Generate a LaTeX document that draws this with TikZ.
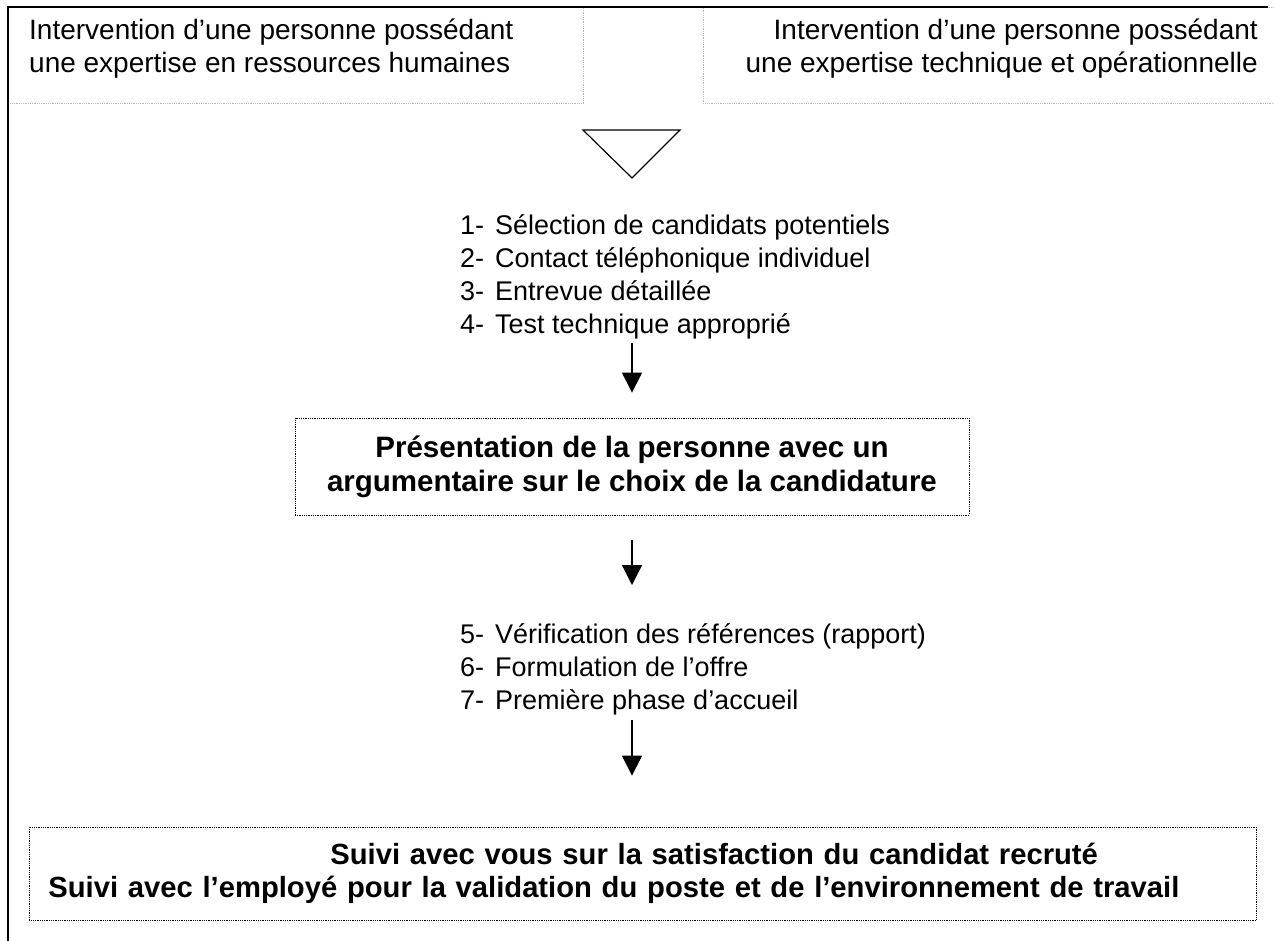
\documentclass[tikz,border=0pt]{standalone}
\usepackage{fontspec}
\setmainfont{Liberation Sans}
\usetikzlibrary{arrows.meta,calc}

\begin{document}
\begin{tikzpicture}[x=1pt,y=-1pt,>=Latex,
	topbox/.style={draw=gray!55, densely dotted, line width=0.8pt,
		minimum width=#1, minimum height=96pt, inner sep=0pt, anchor=north west},
	dotbox/.style={draw=black, densely dotted, line width=0.8pt,
		inner sep=0pt, font=\bfseries\fontsize{29.5}{34}\selectfont, align=center},
	toptext/.style={inner sep=0pt, font=\fontsize{28}{33}\selectfont},
	steplist/.style={inner sep=0pt, anchor=north west, align=left,
		font=\fontsize{27}{33}\selectfont},
	flowarr/.style={line width=1.2pt, -{Triangle[length=20pt,width=20pt]}}]
	
	\useasboundingbox (0,0) rectangle (1274,941);
	
	% ======================================================
	% Top: the two experts
	% ======================================================
	\node[topbox=575pt] (rhbox) at (8,7) {};
	\node[topbox=580pt] (techbox) at (703,7) {};
	\node[toptext, anchor=north west, align=left] (rhtext) at (29,19)
	{Intervention d’une personne possédant\\une expertise en ressources humaines};
	\node[toptext, anchor=north east, align=right] (techtext) at (1258,19)
	{Intervention d’une personne possédant\\une expertise technique et opérationnelle};
	
	% Outer frame (left and top only)
	\draw[line width=2pt] (8,941) -- (8,7) -- (1268,7);
	
	% Funnel
	\draw[line width=1.2pt, line join=miter] (583,130) -- (680,130) -- (632,178) -- cycle;
	
	% ======================================================
	% Steps 1 to 4
	% ======================================================
	\def\num#1{\makebox[35pt][l]{#1-}}
	\node[steplist] (lista) at (460,214)
	{\num{1}Sélection de candidats potentiels\\
		\num{2}Contact téléphonique individuel\\
		\num{3}Entrevue détaillée\\
		\num{4}Test technique approprié};
	
	% Presentation box
	\node[dotbox, minimum width=674pt, minimum height=97pt] (present) at (632,466.5)
	{Présentation de la personne avec un\\argumentaire sur le choix de la candidature};
	
	% ======================================================
	% Steps 5 to 7
	% ======================================================
	\node[steplist] (listb) at (460,623)
	{\num{5}Vérification des références (rapport)\\
		\num{6}Formulation de l’offre\\
		\num{7}Première phase d’accueil};
	
	% Follow-up box
	\node[dotbox, anchor=west, text width=1189pt, inner xsep=19pt, minimum height=93pt,
	align=left, font=\bfseries\fontsize{29.2}{33}\selectfont] (suivi) at (29,873.5)
	{\hspace*{282pt}Suivi avec vous sur la satisfaction du candidat recruté\\
		Suivi avec l’employé pour la validation du poste et de l’environnement de travail};
	
	% Arrows
	\draw[flowarr, shorten <=4pt, shorten >=25pt] (present.north |- lista.south) -- (present.north);
	\draw[flowarr, shorten <=25pt, shorten >=38pt] (present.south) -- (present.south |- listb.north);
	\draw[flowarr, shorten <=5pt, shorten >=51pt] (present.south |- listb.south) -- (present.south |- suivi.north);
	
\end{tikzpicture}
\end{document}
